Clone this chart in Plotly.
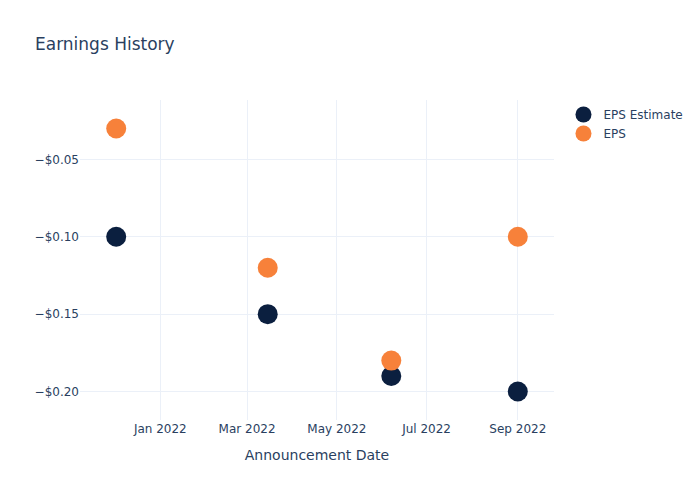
import plotly.graph_objects as go

dates = ["2021-12-02", "2022-03-15", "2022-06-07", "2022-09-01"]
eps_estimate = [-0.10, -0.15, -0.19, -0.20]
eps_actual = [-0.03, -0.12, -0.18, -0.10]

fig = go.Figure()
fig.add_trace(go.Scatter(x=dates, y=eps_estimate, mode="markers", name="EPS Estimate",
                         marker=dict(color="#0b1f3f", size=20)))
fig.add_trace(go.Scatter(x=dates, y=eps_actual, mode="markers", name="EPS",
                         marker=dict(color="#f7813a", size=20)))
fig.update_layout(
    template="plotly_white",
    width=700, height=500,
    font=dict(family="DejaVu Sans"),
    title=dict(text="Earnings History"),
    xaxis=dict(title="Announcement Date"),
    yaxis=dict(tickformat="$.2f"),
)
fig.write_html("out.html", config={"displayModeBar": False},
               post_script="document.body.style.margin='0';")
